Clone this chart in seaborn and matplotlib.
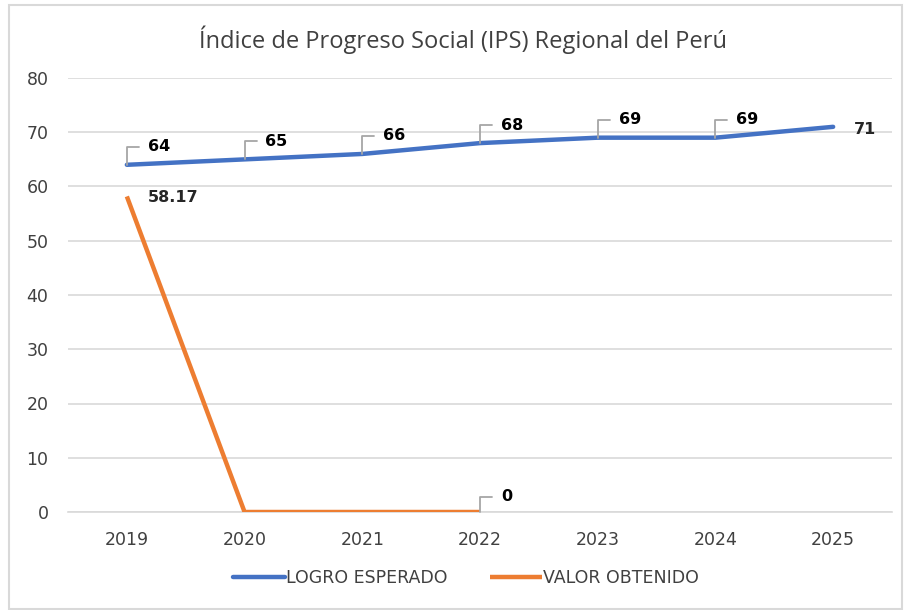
import matplotlib.pyplot as plt
import matplotlib.patches as mpatches
import numpy as np
import pandas as pd
import seaborn as sns

# datos del grafico
years = ['2019', '2020', '2021', '2022', '2023', '2024', '2025']
logro_esperado = [64, 65, 66, 68, 69, 69, 71]
valor_obtenido = [58.17, 0, 0, 0]
valor_labels = ['58.17', None, None, '0']

BLUE = '#4472C4'
ORANGE = '#ED7D31'

sns.set_theme(style='white')
plt.rcParams['font.family'] = ['DejaVu Sans']

fig = plt.figure(figsize=(9.06, 6.10), dpi=100)
ax = fig.add_axes([68 / 906, 1 - 512 / 610, 824 / 906, 434 / 610])

df_esp = pd.DataFrame({'x': np.arange(len(years)), 'y': logro_esperado})
df_obt = pd.DataFrame({'x': np.arange(len(valor_obtenido)), 'y': valor_obtenido})

sns.lineplot(data=df_esp, x='x', y='y', ax=ax, color=BLUE, linewidth=3.2,
             label='LOGRO ESPERADO', solid_capstyle='round', zorder=3)
sns.lineplot(data=df_obt, x='x', y='y', ax=ax, color=ORANGE, linewidth=3.2,
             label='VALOR OBTENIDO', solid_capstyle='butt', zorder=3)

ax.set_xlim(-0.5, len(years) - 0.5)
ax.set_ylim(0, 80)
ax.set_yticks(range(0, 81, 10))
ax.set_xticks(range(len(years)))
ax.set_xticklabels(years)
ax.set_xlabel('')
ax.set_ylabel('')
ax.tick_params(axis='both', labelsize=12.5, colors='#404040', length=0)
ax.tick_params(axis='y', pad=14)
ax.tick_params(axis='x', pad=14)
ax.yaxis.grid(True, color='#D9D9D9', linewidth=1.2)
ax.set_axisbelow(True)
for side in ['top', 'right', 'left']:
    ax.spines[side].set_visible(False)
ax.spines['bottom'].set_color('#D9D9D9')
ax.spines['bottom'].set_linewidth(1.2)

leader = dict(arrowstyle='-', color='#A6A6A6', lw=1.3,
              connectionstyle='angle,angleA=180,angleB=90,rad=0',
              shrinkA=4, shrinkB=0)


def label_with_leader(x, y, text, dx=15, dy=13):
    ax.annotate(text, xy=(x, y), xytext=(dx, dy), textcoords='offset points',
                ha='left', va='center', fontsize=11.5, fontweight='bold',
                color='black', arrowprops=leader, zorder=5)


# etiquetas de la serie esperada
for i, v in enumerate(logro_esperado):
    if i == len(logro_esperado) - 1:
        ax.annotate(str(v), xy=(i, v), xytext=(15, -2), textcoords='offset points',
                    ha='left', va='center', fontsize=11.5, fontweight='bold')
    else:
        label_with_leader(i, v, str(v))

# etiquetas de la serie obtenida
for i, (v, t) in enumerate(zip(valor_obtenido, valor_labels)):
    if t is None:
        continue
    if i == 0:
        ax.annotate(t, xy=(i, v), xytext=(15, -1), textcoords='offset points',
                    ha='left', va='center', fontsize=11.5, fontweight='bold')
    else:
        label_with_leader(i, v, t, dy=11)

ax.get_legend().remove()
handles, labels = ax.get_legend_handles_labels()
fig.legend(handles, labels, loc='center', bbox_to_anchor=(466 / 906, 1 - 578 / 610),
           ncol=2, frameon=False, fontsize=12.5, handlelength=3.0,
           handletextpad=0.1, columnspacing=2.4, labelcolor='#404040')

fig.text(463 / 906, 1 - 40 / 610, 'Índice de Progreso Social (IPS) Regional del Perú',
         ha='center', va='center', fontsize=17, color='#404040',
         family=['Open Sans', 'DejaVu Sans'])

# marco del grafico
fig.patches.append(mpatches.Rectangle((9 / 906, 1 / 610), 893 / 906, 604 / 610,
                                      transform=fig.transFigure, fill=False,
                                      edgecolor='#D9D9D9', linewidth=1.5))

fig.savefig('out.png', dpi=100)
